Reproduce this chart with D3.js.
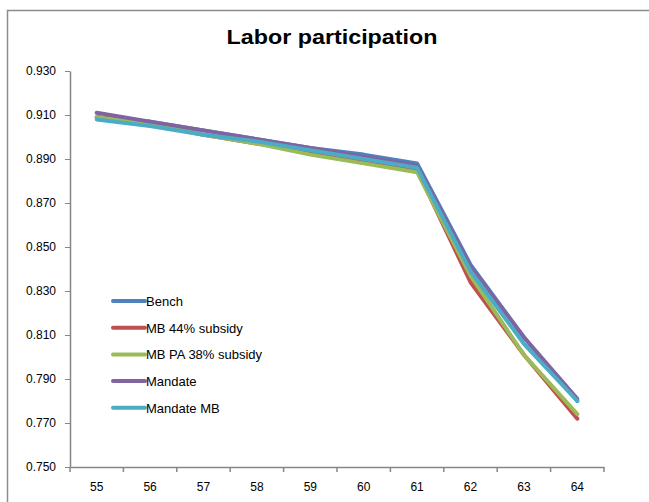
<!DOCTYPE html>
<html>
<head>
<meta charset="utf-8">
<script src="https://cdn.jsdelivr.net/npm/d3@7"></script>
<style>
  body { margin: 0; background: #fff; }
  svg { display: block; }
</style>
</head>
<body>
<script>
const width = 649
const height = 502

// ages on the x axis
const ages = ["55", "56", "57", "58", "59", "60", "61", "62", "63", "64"]
const yTicks = [0.75, 0.77, 0.79, 0.81, 0.83, 0.85, 0.87, 0.89, 0.91, 0.93]

const seriesNames = ["Bench", "MB 44% subsidy", "MB PA 38% subsidy", "Mandate", "Mandate MB"]
const seriesColors = ["#4F81BD", "#C0504D", "#9BBB59", "#8064A2", "#4BACC6"]

const bench      = [0.909, 0.907, 0.903, 0.899, 0.895, 0.892, 0.888, 0.842, 0.809, 0.780]
const mb44       = [0.909, 0.906, 0.901, 0.897, 0.893, 0.889, 0.885, 0.834, 0.801, 0.772]
const mbpa38     = [0.909, 0.906, 0.901, 0.897, 0.892, 0.888, 0.884, 0.837, 0.801, 0.774]
const mandate    = [0.911, 0.907, 0.903, 0.899, 0.895, 0.891, 0.887, 0.841, 0.809, 0.781]
const mandateMB  = [0.908, 0.905, 0.901, 0.898, 0.894, 0.890, 0.886, 0.839, 0.806, 0.780]

const allSeries = [bench, mb44, mbpa38, mandate, mandateMB]

const margin = {left: 70, right: 45, top: 71, bottom: 35}
const font = "'Liberation Sans', Arial, sans-serif"

const svg = d3.select("body").append("svg")
    .attr("width", width)
    .attr("height", height)

// chart frame (runs off right and bottom)
svg.append("path")
    .attr("d", "M7.5," + height + "V10.5H" + width)
    .attr("fill", "none")
    .attr("stroke", "#8c8c8c")
    .attr("stroke-width", 1.5)

svg.append("text")
    .attr("x", 332)
    .attr("y", 44)
    .attr("text-anchor", "middle")
    .style("font-family", font)
    .style("font-weight", "bold")
    .style("font-size", "21px")
    .attr("textLength", 211)
    .attr("lengthAdjust", "spacingAndGlyphs")
    .text("Labor participation")

var x = d3.scaleBand()
    .domain(ages)
    .range([margin.left, width - margin.right])

var y = d3.scaleLinear()
    .domain([0.75, 0.93])
    .range([height - margin.bottom, margin.top])

// y axis
var yAxis = svg.append("g")
    .attr("transform", "translate(" + margin.left + ",0)")
    .call(d3.axisLeft(y).tickValues(yTicks).tickFormat(d3.format(".3f")).tickSize(5).tickSizeOuter(0))
yAxis.select(".domain").attr("stroke", "#868686").attr("stroke-width", 1.5)
yAxis.selectAll(".tick line").attr("stroke", "#868686")
yAxis.selectAll(".tick text")
    .attr("fill", "#000")
    .attr("x", -14)
    .style("font-family", font)
    .style("font-size", "12px")

// x axis, ticks between categories
var xAxis = svg.append("g")
    .attr("transform", "translate(0," + y(0.75) + ")")
    .call(d3.axisBottom(x).tickSize(0).tickSizeOuter(0))
xAxis.select(".domain").attr("stroke", "#868686").attr("stroke-width", 1.5)
xAxis.selectAll(".tick text")
    .attr("fill", "#000")
    .attr("y", 15)
    .style("font-family", font)
    .style("font-size", "12px")

const boundaries = ages.map(a => x(a)).concat([x.range()[1]])
xAxis.selectAll(".bound")
    .data(boundaries)
    .enter()
    .append("line")
    .attr("x1", d => d)
    .attr("x2", d => d)
    .attr("y1", 0)
    .attr("y2", 5)
    .attr("stroke", "#868686")
    .attr("stroke-width", 1.5)

var line = d3.line()
    .x((d, i) => x(ages[i]) + x.bandwidth() / 2)
    .y(d => y(d))

svg.selectAll(".series")
    .data(allSeries)
    .enter()
    .append("path")
    .attr("class", "series")
    .attr("d", line)
    .attr("fill", "none")
    .attr("stroke", (d, i) => seriesColors[i])
    .attr("stroke-width", 4)
    .attr("stroke-linejoin", "round")
    .attr("stroke-linecap", "round")

// legend
var legend = svg.append("g")
    .attr("transform", "translate(113,301)")

var items = legend.selectAll("g")
    .data(seriesNames)
    .enter()
    .append("g")
    .attr("transform", (d, i) => "translate(0," + (i * 26.7) + ")")

items.append("line")
    .attr("x1", 0)
    .attr("x2", 32)
    .attr("stroke", (d, i) => seriesColors[i])
    .attr("stroke-width", 4)
    .attr("stroke-linecap", "round")

items.append("text")
    .attr("x", 33)
    .attr("y", 5)
    .style("font-family", font)
    .style("font-size", "13px")
    .text(d => d)
</script>
</body>
</html>
